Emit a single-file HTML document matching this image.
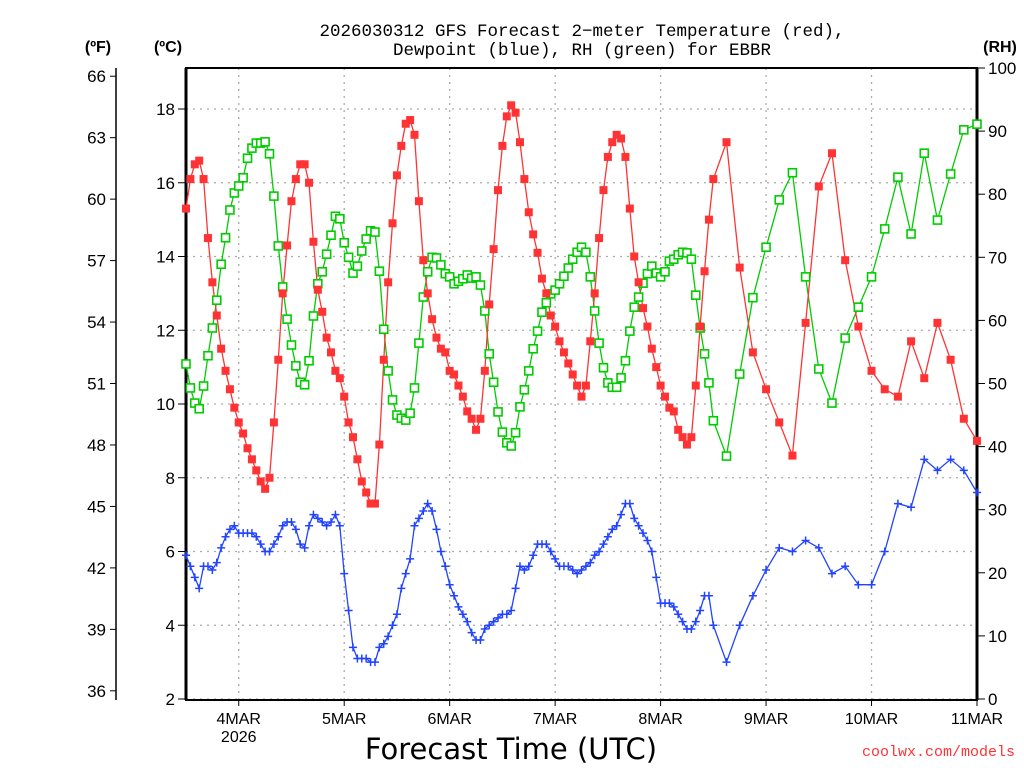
<!DOCTYPE html>
<html><head><meta charset="utf-8"><style>
html,body{margin:0;padding:0;background:#fff;}
svg{display:block;}
text{font-family:"Liberation Sans",sans-serif;}
</style></head><body>
<svg id="chart" width="1024" height="768" xmlns="http://www.w3.org/2000/svg">
<text x="582" y="36" text-anchor="middle" font-size="17.5" style="font-family:'Liberation Mono',monospace">2026030312 GFS Forecast 2−meter Temperature (red),</text>
<text x="582" y="55" text-anchor="middle" font-size="17.5" style="font-family:'Liberation Mono',monospace">Dewpoint (blue), RH (green) for EBBR</text>
<text x="98" y="52" text-anchor="middle" font-size="16" font-weight="bold">(ºF)</text>
<text x="168" y="52" text-anchor="middle" font-size="16" font-weight="bold">(ºC)</text>
<text x="1000" y="52" text-anchor="middle" font-size="16" font-weight="bold">(RH)</text>
<text x="511" y="759" text-anchor="middle" font-size="29" style="font-family:'DejaVu Sans',sans-serif">Forecast Time (UTC)</text>
<text x="1015" y="756" text-anchor="end" font-size="15" fill="#ff3333" style="font-family:'Liberation Mono',monospace">coolwx.com/models</text>
<g id="grid"></g><g id="axes"></g><g id="series"></g>
</svg>
<script>
const tempC=[15.3,16.1,16.5,16.6,16.1,14.5,13.3,12.4,11.5,10.9,
10.4,9.9,9.5,9.2,8.8,8.5,8.2,7.9,7.7,8.0,
9.5,11.2,13.0,14.3,15.5,16.1,16.5,16.5,16.0,14.4,
13.1,12.5,11.8,11.4,10.9,10.7,10.2,9.5,9.1,8.5,
7.9,7.6,7.3,7.3,8.9,11.2,13.3,14.9,16.2,17.0,
17.6,17.7,17.3,15.5,13.9,13.0,12.3,11.8,11.5,11.4,
10.9,10.8,10.5,10.2,9.8,9.6,9.3,9.6,10.9,12.7,
14.2,15.8,17.0,17.8,18.1,17.9,17.1,16.1,15.2,14.6,
14.1,13.4,13.0,12.4,12.1,11.7,11.4,11.1,10.8,10.5,
10.2,10.5,11.7,13.0,14.5,15.8,16.7,17.1,17.3,17.2,
16.7,15.3,14.0,13.3,12.6,12.1,11.5,11.0,10.5,10.2,
9.9,9.8,9.3,9.1,8.9,9.1,10.5,12.1,13.6,15.0,
16.1,
17.1,13.7,11.4,10.4,9.5,8.6,12.2,15.9,16.8,13.9,12.1,10.9,10.4,10.2,11.7,10.7,12.2,11.2,9.6,9.0];
const rhPct=[53.1,49.3,46.9,46.0,49.6,54.4,58.8,63.2,68.9,73.1,
77.5,80.2,81.3,82.6,85.7,87.3,88.1,88.1,88.3,86.4,
79.7,71.8,65.3,60.2,56.1,52.8,50.2,49.8,53.6,60.7,
65.8,67.7,70.5,73.5,76.5,76.1,72.3,70.0,67.5,68.6,
71.0,72.9,74.2,74.0,67.8,58.6,52.0,47.4,45.0,44.5,
44.2,45.3,49.3,56.4,63.7,67.7,70.0,69.9,68.8,67.4,
66.9,65.8,66.2,66.6,67.2,66.7,66.9,65.6,61.5,54.7,
50.2,45.5,42.3,40.6,40.1,42.2,46.3,49.0,52.0,55.5,
58.3,61.3,62.8,64.2,64.8,65.8,67.0,68.3,69.7,70.8,
71.6,70.8,66.9,61.5,56.4,52.5,50.1,49.4,49.4,50.9,
53.6,58.3,62.1,63.7,65.9,67.4,68.6,67.5,66.9,67.7,
69.4,69.7,70.4,70.8,70.7,69.7,64.0,58.8,54.7,50.1,
44.1,
38.5,51.5,63.6,71.6,79.1,83.4,66.9,52.3,46.9,57.2,62.1,66.9,74.5,82.7,73.7,86.5,75.9,83.2,90.2,91.1];
const dewC=[5.9,5.6,5.3,5.0,5.6,5.6,5.5,5.7,6.1,6.4,
6.6,6.7,6.5,6.5,6.5,6.5,6.4,6.2,6.0,6.0,
6.2,6.4,6.7,6.8,6.8,6.6,6.2,6.1,6.7,7.0,
6.9,6.8,6.7,6.8,7.0,6.7,5.4,4.4,3.4,3.1,
3.1,3.1,3.0,3.0,3.4,3.5,3.7,4.0,4.3,5.0,
5.4,5.8,6.7,6.9,7.1,7.3,7.1,6.6,6.0,5.6,
5.1,4.8,4.5,4.3,4.1,3.8,3.6,3.6,3.9,4.0,
4.1,4.2,4.3,4.3,4.4,5.0,5.6,5.5,5.6,5.9,
6.2,6.2,6.2,6.0,5.8,5.6,5.6,5.6,5.5,5.4,
5.5,5.6,5.7,5.9,6.0,6.2,6.4,6.6,6.7,7.0,
7.3,7.3,6.9,6.7,6.5,6.3,6.0,5.3,4.6,4.6,
4.6,4.5,4.3,4.1,3.9,3.9,4.1,4.4,4.8,4.8,
4.0,
3.0,4.0,4.8,5.5,6.1,6.0,6.3,6.1,5.4,5.6,5.1,5.1,6.0,7.3,7.2,8.5,8.2,8.5,8.2,7.6];
const dayLabels=["4MAR","5MAR","6MAR","7MAR","8MAR","9MAR","10MAR","11MAR"];
const dayHours=[12,36,60,84,108,132,156,180];
const celsiusTicks=[2,4,6,8,10,12,14,16,18];
const fahrenheitTicks=[36,39,42,45,48,51,54,57,60,63,66];
const rhTicks=[0,10,20,30,40,50,60,70,80,90,100];

const NS="http://www.w3.org/2000/svg";
const L=186,R=977,T=68,B=699;
function hourAt(i){return i<=120?i:120+(i-120)*3;}
function xS(h){return L+h*(R-L)/180;}
function yC(c){return B-(c-2)*36.875;}
function yRH(r){return B-r*6.31;}
function yF(f){return yC((f-32)*5/9);}
function mk(tag,attrs,parent){const e=document.createElementNS(NS,tag);for(const k in attrs)e.setAttribute(k,attrs[k]);parent.appendChild(e);return e;}
const grid=document.getElementById('grid'),axes=document.getElementById('axes'),ser=document.getElementById('series');

celsiusTicks.forEach(c=>{
  const g=mk('line',{x1:L,x2:R,y1:yC(c),y2:yC(c),stroke:'#aaa','stroke-width':1.3,'stroke-dasharray':'2,5'},grid);
  
  
  const t=mk('line',{x1:L-8,x2:L,y1:yC(c),y2:yC(c),stroke:'#000','stroke-width':1},axes);
  
  
  const tx=mk('text',{x:L-11,y:yC(c)+6,'text-anchor':'end','font-size':17},axes);
  tx.textContent=c;
  
  
});
dayHours.forEach((h,i)=>{
  const x=xS(h);
  const g=mk('line',{x1:x,x2:x,y1:T,y2:B,stroke:'#aaa','stroke-width':1.3,'stroke-dasharray':'2,5'},grid);
  
  
  const t=mk('line',{x1:x,x2:x,y1:B,y2:B+7,stroke:'#000','stroke-width':1},axes);
  
  
  const tx=mk('text',{x:x,y:724,'text-anchor':'middle','font-size':16},axes);
  tx.textContent=dayLabels[i];
  
  
});
const yr=mk('text',{x:xS(12),y:742,'text-anchor':'middle','font-size':16},axes);
yr.textContent='2026';


fahrenheitTicks.forEach(f=>{
  const t=mk('line',{x1:110,x2:116,y1:yF(f),y2:yF(f),stroke:'#000','stroke-width':1},axes);
  
  
  const tx=mk('text',{x:106,y:yF(f)+6,'text-anchor':'end','font-size':17},axes);
  tx.textContent=f;
  
  
});
rhTicks.forEach(r=>{
  const t=mk('line',{x1:R,x2:R+8,y1:yRH(r),y2:yRH(r),stroke:'#000','stroke-width':1},axes);
  
  
  const tx=mk('text',{x:988,y:yRH(r)+6,'text-anchor':'start','font-size':17},axes);
  tx.textContent=r;
  
  
});
const fa=mk('line',{x1:116,x2:116,y1:68,y2:700,stroke:'#000','stroke-width':1.5},axes);


const frame=mk('path',{d:`M${L},${T}H${R}V${B+1}H${L}Z`,fill:'none',stroke:'#000','stroke-width':2},axes);


const rl=mk('line',{x1:R,x2:R,y1:T,y2:B+1,stroke:'#000','stroke-width':3},axes);


const ll=mk('line',{x1:L,x2:L,y1:T,y2:B+1,stroke:'#000','stroke-width':3},axes);



function line(vals,yf,color,name){
  const pts=vals.map((v,i)=>xS(hourAt(i)).toFixed(1)+','+yf(v).toFixed(1)).join(' ');
  const p=mk('polyline',{points:pts,fill:'none',stroke:color,'stroke-width':1.3},ser);
  
  
}
line(rhPct,yRH,'#00cc00','rh-line');
line(tempC,yC,'#ff3333','temperature-line');
line(dewC,yC,'#2244ff','dewpoint-line');
rhPct.forEach((v,i)=>{
  const r=mk('rect',{x:xS(hourAt(i))-4,y:yRH(v)-4,width:8,height:8,fill:'#fff',stroke:'#00cc00','stroke-width':1.6},ser);
  
  
});
tempC.forEach((v,i)=>{
  const r=mk('rect',{x:xS(hourAt(i))-4,y:yC(v)-4,width:8,height:8,fill:'#ff3333'},ser);
  
  
});
dewC.forEach((v,i)=>{
  const x=xS(hourAt(i)),y=yC(v);
  const p=mk('path',{d:`M${x-4},${y}H${x+4}M${x},${y-4}V${y+4}`,stroke:'#2244ff','stroke-width':1.5},ser);
  
  
});
</script>
</body></html>
